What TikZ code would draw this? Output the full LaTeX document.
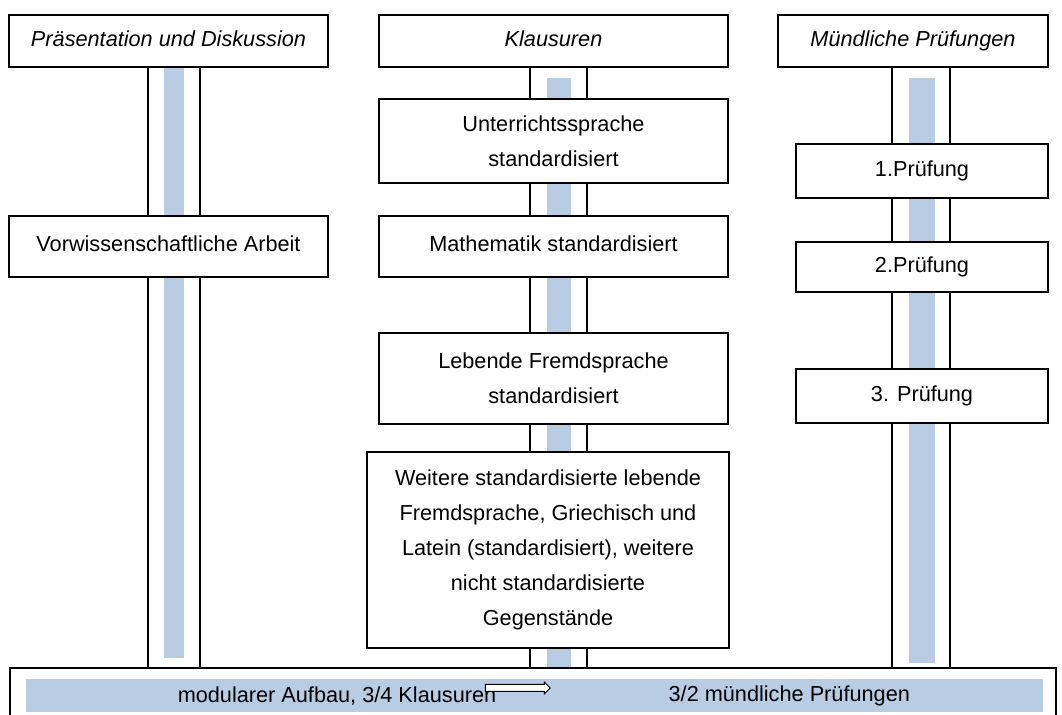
\documentclass[tikz,border=0pt]{standalone}
\usepackage{fontspec}
\setmainfont{Liberation Sans}
\usepackage{tikz}
\usetikzlibrary{arrows.meta, positioning, shapes.arrows}
\definecolor{barblue}{RGB}{184,204,228}

\begin{document}
\begin{tikzpicture}[x=0.5pt, y=-0.5pt, line width=1pt,
  txt/.style={font=\fontsize{10.85}{17.5}\selectfont},
  box/.style={txt, draw, fill=white, align=center, inner sep=0pt},
  oneline/.style={box, text height=0.72em, text depth=0.2em},
  headbox/.style={oneline, font=\fontsize{10.85}{17.5}\selectfont\itshape, minimum height=26pt}]
  \useasboundingbox (0,0) rectangle (1062,715);
  \clip (0,0) rectangle (1062,715);

  % pillars behind the boxes
  \foreach \xl/\xr/\bl/\br/\bt/\bb in {148/200/164/184/67/658, 530/587/547/571/78/667, 892/950/909/935/78/663} {
    \fill[barblue] (\bl,\bt) rectangle (\br,\bb);
    \draw (\xl,67) -- (\xl,667) (\xr,67) -- (\xr,667);
  }

  % column heads
  \node[headbox, minimum width=159.5pt] (praes) at (168.5,41) {Präsentation und Diskussion};
  \node[headbox, minimum width=174.5pt] (klaus) at (553.5,41) {Klausuren};
  \node[headbox, minimum width=135pt] (muendl) at (913,41) {Mündliche Prüfungen};

  % left column
  \node[oneline, minimum width=159.5pt, minimum height=30.5pt] (vwa) at (168.5,246.5) {Vorwissenschaftliche Arbeit};

  % middle column
  \node[box, minimum width=174.5pt, minimum height=42pt] (unt) at (553.5,141) {Unterrichtssprache\\standardisiert};
  \node[oneline, minimum width=174.5pt, minimum height=30.5pt] (math) at (553.5,246.5) {Mathematik standardisiert};
  \node[box, minimum width=174.5pt, minimum height=45.5pt] (leb) at (553.5,378.5) {Lebende Fremdsprache\\standardisiert};
  \node[box, minimum width=181pt, minimum height=98pt] (weit) at (548,550) {Weitere standardisierte lebende\\Fremdsprache, Griechisch und\\Latein (standardisiert), weitere\\nicht standardisierte\\Gegenstände};

  % right column
  \node[oneline, minimum width=126pt, minimum height=27pt] (pr1) at (922,171) {1.Prüfung};
  \node[oneline, minimum width=126pt, minimum height=25pt] (pr2) at (922,267) {2.Prüfung};
  \node[oneline, minimum width=126pt, minimum height=27pt] (pr3) at (922,396) {3. Prüfung};

  % base
  \node[draw, fill=white, minimum width=523pt, minimum height=40pt, inner sep=0pt, anchor=north west] (base) at (9,667) {};
  \fill[barblue] (26,679) rectangle (1043,712);
  \node[txt] (modul) at (337,696) {modularer Aufbau, 3/4 Klausuren};
  \node[single arrow, draw, fill=white, line width=0.5pt, inner sep=1.5pt, single arrow head extend=1.2pt, minimum height=32.5pt] (pfeil) at (516,688) {};
  \node[txt, anchor=west] (muend) at (661,696) {3/2 mündliche Prüfungen};
\end{tikzpicture}
\end{document}
